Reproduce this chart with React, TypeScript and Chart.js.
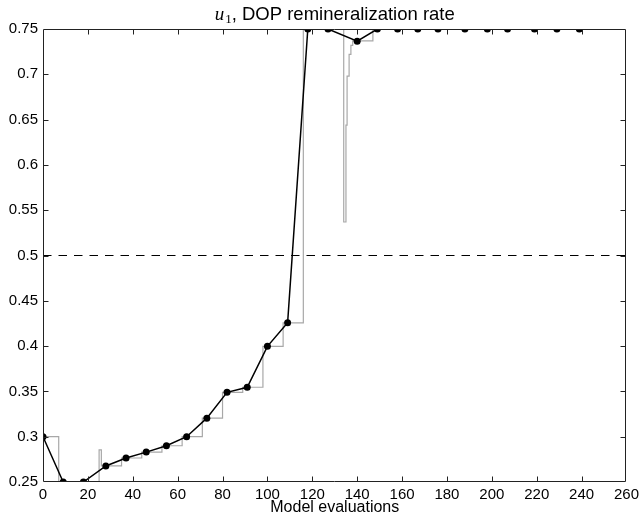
import React, { useEffect, useRef } from 'react';
import { Chart, registerables } from 'chart.js';

Chart.register(...registerables);

// Iterates (black line with dots)
const iterX = [0, 9, 18, 28, 37, 46, 55, 64, 73, 82, 91, 100, 109, 118, 127, 140, 149, 158, 167, 176, 188, 198, 207, 219, 229, 239];
const iterY = [0.30, 0.25, 0.25, 0.2677, 0.2765, 0.283, 0.29, 0.30, 0.3205, 0.349, 0.3546, 0.3997, 0.4257, 0.75, 0.75, 0.7365, 0.75, 0.75, 0.75, 0.75, 0.75, 0.75, 0.75, 0.75, 0.75, 0.75];

// All model evaluations (grey staircase)
const evalX = [0, 7, 25, 26, 35, 44, 53, 62, 71, 80, 89, 98, 107, 116, 134, 135, 135.5, 136.4, 137.2, 138, 147, 240];
const evalY = [0.30, 0.25, 0.2854, 0.2677, 0.2765, 0.283, 0.29, 0.30, 0.3205, 0.349, 0.3546, 0.3997, 0.4257, 0.75, 0.537, 0.644, 0.698, 0.722, 0.732, 0.737, 0.75, 0.75];

// Reference level (dashed)
const thresholdX = [0, 260];
const thresholdY = [0.5, 0.5];

const xTicks = [0, 20, 40, 60, 80, 100, 120, 140, 160, 180, 200, 220, 240, 260];
const yTicks = [0.25, 0.3, 0.35, 0.4, 0.45, 0.5, 0.55, 0.6, 0.65, 0.7, 0.75];

const titleVar = 'u';
const titleSub = '1';
const titleRest = ', DOP remineralization rate';
const xLabel = 'Model evaluations';

const SANS = '"Liberation Sans", Arial, Helvetica, sans-serif';

const boxPlugin = {
  id: 'matlabBox',
  afterDatasetsDraw(chart: any) {
    const { ctx, chartArea, scales } = chart;
    const l = Math.round(chartArea.left) + 0.5;
    const r = Math.round(chartArea.right) - 0.5;
    const t = Math.round(chartArea.top) + 0.5;
    const b = Math.round(chartArea.bottom) - 0.5;
    const tl = 5;
    ctx.save();
    ctx.strokeStyle = '#222';
    ctx.lineWidth = 1;
    ctx.beginPath();
    ctx.rect(l, t, r - l, b - t);
    for (const v of xTicks.slice(1, -1)) {
      const px = Math.round(scales.x.getPixelForValue(v)) + 0.5;
      ctx.moveTo(px, b);
      ctx.lineTo(px, b - tl);
      ctx.moveTo(px, t);
      ctx.lineTo(px, t + tl);
    }
    for (const v of yTicks.slice(1, -1)) {
      const py = Math.round(scales.y.getPixelForValue(v)) + 0.5;
      ctx.moveTo(l, py);
      ctx.lineTo(l + tl, py);
      ctx.moveTo(r, py);
      ctx.lineTo(r - tl, py);
    }
    ctx.stroke();
    ctx.restore();
  },
  afterDraw(chart: any) {
    const { ctx, chartArea } = chart;
    const cx = (chartArea.left + chartArea.right) / 2;
    const baseY = 20;
    const fVar = 'italic 19px "Liberation Serif", "Times New Roman", serif';
    const fSub = '13px "Liberation Serif", "Times New Roman", serif';
    const fMain = '18.5px ' + SANS;
    ctx.save();
    ctx.fillStyle = '#000';
    ctx.textBaseline = 'alphabetic';
    ctx.textAlign = 'left';
    ctx.font = fVar;
    const wV = ctx.measureText(titleVar).width;
    ctx.font = fSub;
    const wS = ctx.measureText(titleSub).width;
    ctx.font = fMain;
    const wM = ctx.measureText(titleRest).width;
    const total = wV + 1 + wS + wM;
    let x = cx - total / 2;
    ctx.font = fVar;
    ctx.fillText(titleVar, x, baseY);
    x += wV + 1;
    ctx.font = fSub;
    ctx.fillText(titleSub, x, baseY + 3);
    x += wS;
    ctx.font = fMain;
    ctx.fillText(titleRest, x, baseY);
    ctx.restore();
  },
};

export default function App() {
  const canvasRef = useRef<HTMLCanvasElement | null>(null);

  useEffect(() => {
    document.body.style.margin = '0';
    const canvas = canvasRef.current;
    if (!canvas) return;
    const chart = new Chart(canvas, {
      type: 'line',
      data: {
        datasets: [
          {
            label: 'iterates',
            data: iterX.map((x, i) => ({ x, y: iterY[i] })),
            borderColor: '#000',
            backgroundColor: '#000',
            borderWidth: 1.5,
            pointRadius: 3.5,
            pointBorderWidth: 0,
            pointBackgroundColor: '#000',
            fill: false,
            tension: 0,
            clip: 0,
          },
          {
            label: 'evaluations',
            data: evalX.map((x, i) => ({ x, y: evalY[i] })),
            borderColor: '#a8a8a8',
            borderWidth: 1.2,
            pointRadius: 0,
            stepped: 'before',
            fill: false,
            clip: 0,
          },
          {
            label: 'threshold',
            data: thresholdX.map((x, i) => ({ x, y: thresholdY[i] })),
            borderColor: '#000',
            borderWidth: 1,
            borderDash: [8.5, 7],
            pointRadius: 0,
            fill: false,
            clip: 0,
          },
        ],
      },
      options: {
        animation: false,
        responsive: false,
        maintainAspectRatio: false,
        events: [],
        layout: { padding: { top: 29, right: 13, left: 0, bottom: 0 } },
        plugins: {
          legend: { display: false },
          tooltip: { enabled: false },
          title: { display: false },
        },
        scales: {
          x: {
            type: 'linear',
            min: 0,
            max: 260,
            grid: { display: false, drawTicks: false },
            border: { display: false },
            afterBuildTicks: (s: any) => {
              s.ticks = xTicks.map((v) => ({ value: v }));
            },
            afterFit: (s: any) => {
              s.height = 35;
            },
            ticks: {
              color: '#000',
              padding: 4,
              maxRotation: 0,
              autoSkip: false,
              font: { family: SANS, size: 15 },
              callback: (v: any) => String(v),
            },
            title: {
              display: true,
              text: xLabel,
              color: '#000',
              font: { family: SANS, size: 16 },
              padding: { top: 0, bottom: 0 },
            },
          },
          y: {
            type: 'linear',
            min: 0.25,
            max: 0.75,
            grid: { display: false, drawTicks: false },
            border: { display: false },
            afterBuildTicks: (s: any) => {
              s.ticks = yTicks.map((v) => ({ value: v }));
            },
            afterFit: (s: any) => {
              s.width = 43;
            },
            ticks: {
              color: '#000',
              padding: 5,
              autoSkip: false,
              font: { family: SANS, size: 15 },
              callback: (v: any) => String(parseFloat(Number(v).toFixed(2))),
            },
          },
        },
      },
      plugins: [boxPlugin],
    });
    return () => chart.destroy();
  }, []);

  return (
    <div style={{ position: 'absolute', left: 0, top: 0, width: 643, height: 517, background: '#fff' }}>
      <canvas ref={canvasRef} width={643} height={517} style={{ width: 643, height: 517, display: 'block' }} />
    </div>
  );
}
